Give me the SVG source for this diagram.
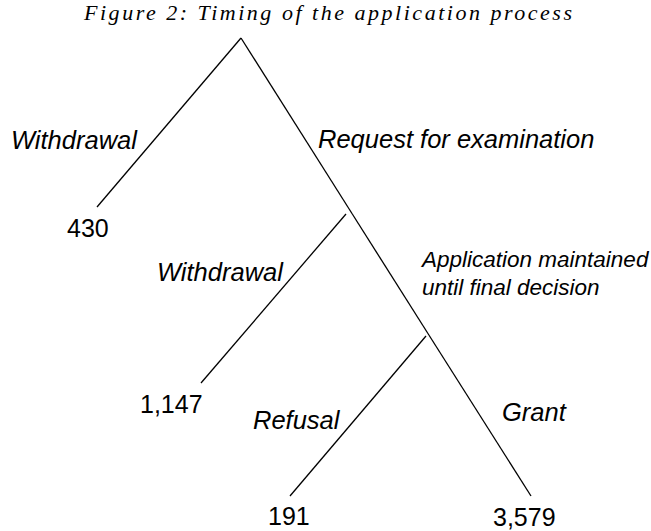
<svg xmlns="http://www.w3.org/2000/svg" width="651" height="531" viewBox="0 0 651 531">
<style>
.t{font-family:"Liberation Serif","Times New Roman",serif;font-style:italic;font-size:22px;fill:#000}
.lab{font-family:"Liberation Sans",Arial,sans-serif;font-style:italic;font-size:25.5px;fill:#000}
.lab2{font-family:"Liberation Sans",Arial,sans-serif;font-style:italic;font-size:22.5px;fill:#000}
.num{font-family:"Liberation Sans",Arial,sans-serif;font-size:25px;fill:#000}
.c{stroke:#000;stroke-width:1.3;fill:none;stroke-linecap:butt}
</style>
<rect width="651" height="531" fill="#fff"/>
<text class="t" x="84" y="20" textLength="488" lengthAdjust="spacing">Figure 2: Timing of the application process</text>
<g id="connectors">
<line class="c" x1="241" y1="38" x2="97" y2="207"/>
<line class="c" x1="241" y1="38" x2="352.3" y2="214"/>
<line class="c" x1="352.3" y1="214" x2="428.9" y2="335"/>
<line class="c" x1="428.9" y1="335" x2="531" y2="496"/>
<line class="c" x1="346" y1="214" x2="201" y2="383"/>
<line class="c" x1="426" y1="336" x2="290" y2="496"/>
</g>
<g id="edge-labels">
<text class="lab" x="11" y="149">Withdrawal</text>
<text class="lab" x="318" y="148">Request for examination</text>
<text class="lab" x="157" y="281">Withdrawal</text>
<text class="lab2" x="422" y="267">Application maintained</text>
<text class="lab2" x="422" y="295">until final decision</text>
<text class="lab" x="253" y="429">Refusal</text>
<text class="lab" x="502" y="421">Grant</text>
</g>
<g id="node-430"><text class="num" x="67" y="237">430</text></g>
<g id="node-1147"><text class="num" x="140" y="413">1,147</text></g>
<g id="node-191"><text class="num" x="268" y="525">191</text></g>
<g id="node-3579"><text class="num" x="493" y="526">3,579</text></g>
</svg>
